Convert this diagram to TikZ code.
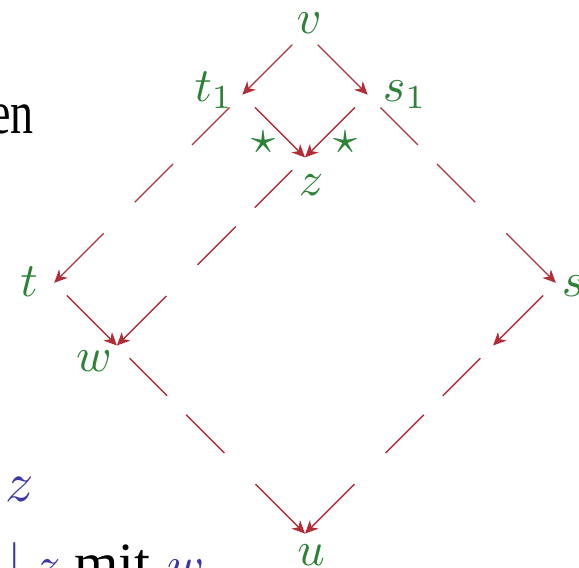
\RequirePackage{fix-cm}
\documentclass[tikz,border=0pt]{standalone}
\usepackage{fontspec}
\newfontfamily\libserif{Liberation Serif}
\usetikzlibrary{arrows.meta}
\definecolor{lblgreen}{RGB}{45,130,55}
\definecolor{arrred}{RGB}{178,45,58}
\definecolor{strblue}{RGB}{60,55,165}
\begin{document}
\begin{tikzpicture}[x=0.5pt,y=-0.5pt,
  lbl/.style={text=lblgreen, inner sep=0pt, font=\normalsize},
  txt/.style={inner sep=0pt, font=\normalsize},
  arr/.style={draw=arrred, line width=0.65pt, -{Stealth[length=6.5pt,width=6pt,inset=2pt]}, shorten <=9pt},
  dsh/.style={arr, dash pattern=on 26.5pt off 13.5pt on 27pt off 22pt on 80pt off 1pt}]
\useasboundingbox (0,0) rectangle (579,568);
% grid points
\coordinate (v)  at (305,32);
\coordinate (t1) at (242.3,94.7);
\coordinate (s1) at (367.7,94.7);
\coordinate (z)  at (305,157.4);
\coordinate (t)  at (54.2,282.8);
\coordinate (s)  at (555.8,282.8);
\coordinate (w)  at (116.9,345.5);
\coordinate (w2) at (493.1,345.5);
\coordinate (u)  at (305,533.6);
% labels
\node[lbl, anchor=base] (lv)  at (309,33)  {\scalebox{2.4}{$v$}};
\node[lbl, anchor=base] (lt1) at (214,101) {\scalebox{2.4}{$t_1$}};
\node[lbl, anchor=base] (ls1) at (405,101) {\scalebox{2.4}{$s_1$}};
\node[lbl, anchor=base] (lz)  at (311,195) {\scalebox{2.4}{$z$}};
\node[lbl, anchor=base] (lt)  at (29,296)  {\scalebox{2.4}{$t$}};
\node[lbl, anchor=base] (ls)  at (573,296) {\scalebox{2.4}{$s$}};
\node[lbl, anchor=base] (lw)  at (94,371)  {\scalebox{2.4}{$w$}};
\node[lbl, anchor=base] (lu)  at (311,565) {\scalebox{2.4}{$u$}};
\node[lbl] (st1) at (263,142) {\scalebox{2.4}{$\star$}};
\node[lbl] (st2) at (345,142) {\scalebox{2.4}{$\star$}};
% arrows
\draw[arr] (v) -- (t1);
\draw[arr] (v) -- (s1);
\draw[arr] (t1) -- (z);
\draw[arr] (s1) -- (z);
\draw[dsh] (t1) -- (t);
\draw[dsh] (s1) -- (s);
\draw[dsh] (z) -- (w);
\draw[arr] (t) -- (w);
\draw[arr] (s) -- (w2);
\draw[dsh] (w) -- (u);
\draw[dsh] (w2) -- (u);
% surrounding text
\node[txt, anchor=base east] (en) at (34,133) {\scalebox{2.3}[3.05]{\libserif en}};
\node[txt, anchor=base west, text=strblue] (bz) at (5,501) {\scalebox{2.8}{$z$}};
\node[txt, anchor=base, text=strblue] (bar) at (15,581) {\scalebox{2.6}{$\mid$}};
\node[txt, anchor=base west, text=strblue] (bz2) at (35,581) {\scalebox{2.5}{$z$}};
\node[txt, anchor=base west] (mit) at (74,582) {\scalebox{2.85}{\libserif mit}};
\node[txt, anchor=base west, text=strblue] (bw) at (167,581) {\scalebox{2.5}{$w$}};
\end{tikzpicture}
\end{document}
